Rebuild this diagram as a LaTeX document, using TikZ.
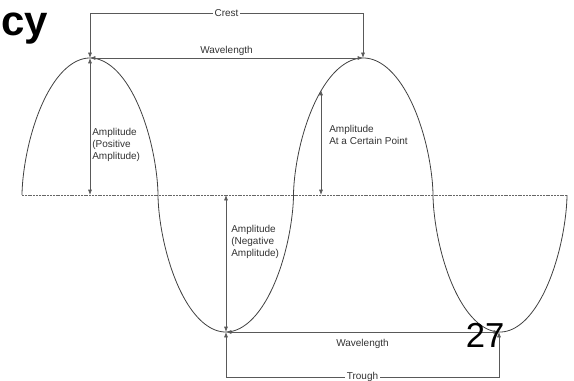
\documentclass[tikz,border=0pt]{standalone}
\usepackage{fontspec}
\setmainfont{Liberation Sans}
\usetikzlibrary{arrows.meta,positioning}
\tikzset{>={Latex[width=3pt,length=4pt]}}
\tikzset{dim/.style={<->, draw=black!65, line width=0.5pt}}
\tikzset{bracket/.style={draw=black!65, line width=0.5pt}}
\tikzset{wave/.style={draw=black!75, line width=0.6pt}}
\tikzset{axis/.style={draw=black!60, line width=0.6pt, dash pattern=on 1.5pt off 0.6pt}}
\tikzset{tag/.style={font=\fontsize{7.5}{9}\selectfont, text=black!80, inner sep=0pt}}
\tikzset{note/.style={tag, align=left, anchor=north west}}

\begin{document}
\begin{tikzpicture}[x=0.75pt, y=-0.75pt]
    \useasboundingbox (0,0) rectangle (574,381);

    % zero line and the wave, one hump at a time
    \coordinate (a0) at (22,195);
    \coordinate (a8) at (567,195);
    \draw [axis] (a0) to (a8);
    \foreach \c/\w/\s in {90/68/1, 225.75/67.75/-1, 363.25/69.75/1, 500/67/-1}
        \draw [wave] plot [domain=-89.9:89.9, samples=91, smooth]
            ({\c+\w*sin(\x)}, {195-\s*137*abs(cos(\x))^1.2});

    % crests, troughs and the foot points
    \coordinate (c1) at (90,58);
    \coordinate (c2) at (363,58);
    \coordinate (t1) at (226,332);
    \coordinate (t2) at (499,332);
    \coordinate (p1) at (321,90);
    \coordinate (c1b) at (c1 |- a0);
    \coordinate (t1b) at (t1 |- a0);
    \coordinate (p1b) at (p1 |- a0);
    \coordinate (cL) at (90,13);
    \coordinate (cR) at (363,13);
    \coordinate (tL) at (226,377);
    \coordinate (tR) at (499,377);

    % crest and trough brackets
    \draw [<->][bracket] (c1) to (cL) to node (crest) [tag, fill=white, inner xsep=1.5pt] {Crest} (cR) to (c2);
    \draw [<->][bracket] (t1) to (tL) to node (trough) [tag, fill=white, inner xsep=1.5pt] {Trough} (tR) to (t2);

    % wavelengths
    \draw [dim] (c1) to node (wl1) [tag, above=1.5pt] {Wavelength} (c2);
    \draw [dim] (t1) to node (wl2) [tag, below=5pt] {Wavelength} (t2);

    % amplitudes
    \draw [dim] (c1) to (c1b);
    \draw [dim] (t1b) to (t1);
    \draw [dim] (p1) to (p1b);
    \node (ampP) [note] at (92,128) {Amplitude\\(Positive\\Amplitude)};
    \node (ampN) [note] at (231,225) {Amplitude\\(Negative\\Amplitude)};
    \node (ampC) [note] at (329,125) {Amplitude\\At a Certain Point};

    % slide leftovers
    \node (title) [anchor=base west, inner sep=0pt, font=\fontsize{31.5}{36}\selectfont\bfseries] at (1,35.5) {cy};
    \node (page) [anchor=base west, inner sep=0pt, font=\fontsize{26}{30}\selectfont] at (465.5,347) {27};
\end{tikzpicture}
\end{document}
